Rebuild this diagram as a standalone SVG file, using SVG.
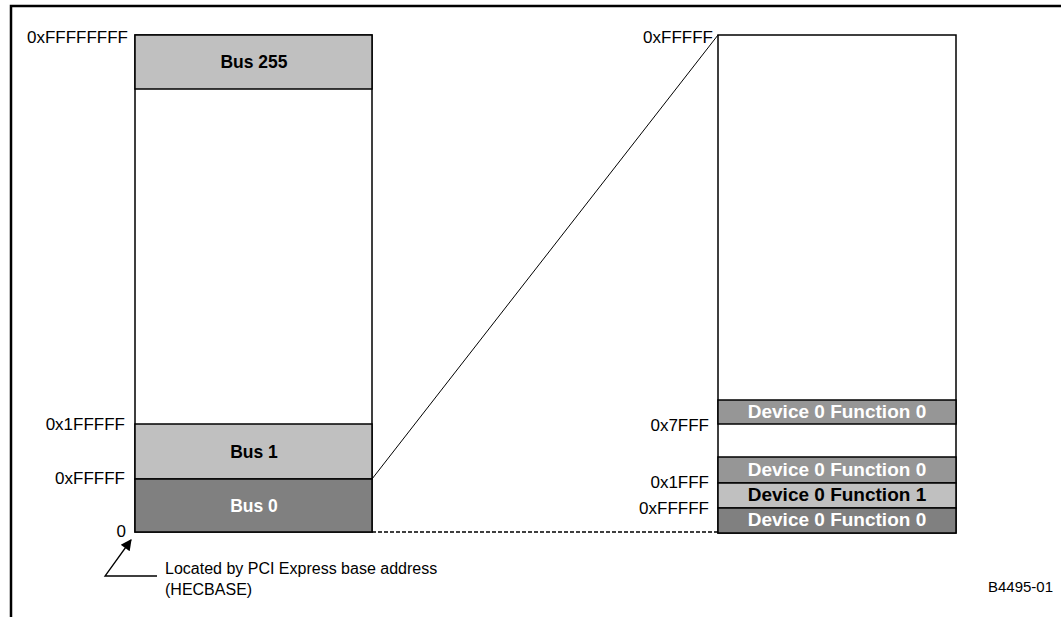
<svg xmlns="http://www.w3.org/2000/svg" width="1061" height="617" viewBox="0 0 1061 617">
<style>
.lbl{font-family:"Liberation Sans",Arial,sans-serif;font-size:17px;fill:#000}
.bus{font-family:"Liberation Sans",Arial,sans-serif;font-size:17.5px;font-weight:bold;text-anchor:middle}
.dev{font-family:"Liberation Sans",Arial,sans-serif;font-size:19px;font-weight:bold;text-anchor:middle}
.box{stroke:#000;stroke-width:1.5}
.r{text-anchor:end}
</style>
<defs>
<marker id="ah" viewBox="0 0 10 10" refX="9" refY="5" markerWidth="13" markerHeight="11" orient="auto" markerUnits="userSpaceOnUse">
<path d="M0,0 L10,5 L0,10 z" fill="#000"/>
</marker>
</defs>
<g id="frame">
<polyline points="11,617 11,6 1061,6" fill="none" stroke="#000" stroke-width="2.5"/>
</g>
<g id="connectors" fill="none" stroke="#000" stroke-width="1">
<line x1="372" y1="479" x2="718" y2="35"/>
<line x1="372" y1="532" x2="718" y2="532" stroke-width="1.3" stroke-dasharray="4,2"/>
<polyline points="157,576 105,576 131,540" stroke-width="1.3" marker-end="url(#ah)"/>
</g>
<g id="left-column">
<rect class="box" x="135" y="35" width="237" height="497" fill="#fff"/>
<g id="bus255"><rect class="box" x="135" y="35" width="237" height="54" fill="#c0c0c0"/><text class="bus" x="254" y="68">Bus 255</text></g>
<g id="bus1"><rect class="box" x="135" y="424" width="237" height="55" fill="#c0c0c0"/><text class="bus" x="254" y="458">Bus 1</text></g>
<g id="bus0"><rect class="box" x="135" y="479" width="237" height="53" fill="#808080"/><text class="bus" x="254" y="512" fill="#fff">Bus 0</text></g>
</g>
<g id="left-labels">
<text class="lbl r" x="128" y="43">0xFFFFFFFF</text>
<text class="lbl r" x="125" y="430">0x1FFFFF</text>
<text class="lbl r" x="125" y="484">0xFFFFF</text>
<text class="lbl r" x="126" y="537">0</text>
</g>
<g id="right-column">
<rect class="box" x="718" y="35" width="238" height="498" fill="#fff"/>
<g id="dev-a"><rect class="box" x="718" y="400" width="238" height="24" fill="#969696"/><text class="dev" x="837" y="418" fill="#fff">Device 0 Function 0</text></g>
<g id="dev-b"><rect class="box" x="718" y="457" width="238" height="26" fill="#969696"/><text class="dev" x="837" y="476" fill="#fff">Device 0 Function 0</text></g>
<g id="dev-c"><rect class="box" x="718" y="483" width="238" height="25" fill="#c0c0c0"/><text class="dev" x="837" y="501" fill="#000">Device 0 Function 1</text></g>
<g id="dev-d"><rect class="box" x="718" y="508" width="238" height="25" fill="#808080"/><text class="dev" x="837" y="526" fill="#fff">Device 0 Function 0</text></g>
</g>
<g id="right-labels">
<text class="lbl r" x="713" y="43">0xFFFFF</text>
<text class="lbl r" x="709" y="431">0x7FFF</text>
<text class="lbl r" x="709" y="488">0x1FFF</text>
<text class="lbl r" x="709" y="514">0xFFFFF</text>
</g>
<g id="note">
<text class="lbl" x="165" y="574" style="font-size:16px">Located by PCI Express base address</text>
<text class="lbl" x="165" y="595" style="font-size:16px">(HECBASE)</text>
</g>
<text class="lbl r" x="1053" y="592" style="font-size:15px">B4495-01</text>
</svg>
